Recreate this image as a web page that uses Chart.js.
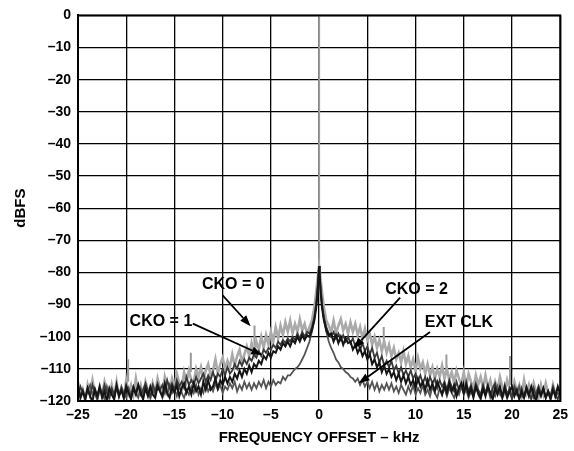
<!DOCTYPE html>
<html>
<head>
<meta charset="utf-8">
<script src="https://cdn.jsdelivr.net/npm/chart.js@4.4.0/dist/chart.umd.min.js"></script>
<style>
  html, body { margin: 0; padding: 0; background: #fff; }
  canvas { display: block; }
</style>
</head>
<body>
<canvas id="chart" width="574" height="451"></canvas>
<script>
// frequency offset, kHz (finer near the carrier)
const freq = [
  -25, -24.75, -24.5, -24.25, -24, -23.75, -23.5, -23.25,
  -23, -22.75, -22.5, -22.25, -22, -21.75, -21.5, -21.25,
  -21, -20.75, -20.5, -20.25, -20, -19.75, -19.5, -19.25,
  -19, -18.75, -18.5, -18.25, -18, -17.75, -17.5, -17.25,
  -17, -16.75, -16.5, -16.25, -16, -15.75, -15.5, -15.25,
  -15, -14.75, -14.5, -14.25, -14, -13.75, -13.5, -13.25,
  -13, -12.75, -12.5, -12.25, -12, -11.75, -11.5, -11.25,
  -11, -10.75, -10.5, -10.25, -10, -9.75, -9.5, -9.25,
  -9, -8.75, -8.5, -8.25, -8, -7.75, -7.5, -7.25,
  -7, -6.75, -6.5, -6.25, -6, -5.75, -5.5, -5.25,
  -5, -4.75, -4.5, -4.25, -4, -3.75, -3.5, -3.25,
  -3, -2.75, -2.5, -2.25, -2, -1.75, -1.5, -1.25,
  -1,
  -0.75, -0.5, -0.3, -0.15, -0.05, 0, 0.05, 0.15, 0.3, 0.5, 0.75,
  1,
  1.25, 1.5, 1.75, 2, 2.25, 2.5, 2.75, 3,
  3.25, 3.5, 3.75, 4, 4.25, 4.5, 4.75, 5,
  5.25, 5.5, 5.75, 6, 6.25, 6.5, 6.75, 7,
  7.25, 7.5, 7.75, 8, 8.25, 8.5, 8.75, 9,
  9.25, 9.5, 9.75, 10, 10.25, 10.5, 10.75, 11,
  11.25, 11.5, 11.75, 12, 12.25, 12.5, 12.75, 13,
  13.25, 13.5, 13.75, 14, 14.25, 14.5, 14.75, 15,
  15.25, 15.5, 15.75, 16, 16.25, 16.5, 16.75, 17,
  17.25, 17.5, 17.75, 18, 18.25, 18.5, 18.75, 19,
  19.25, 19.5, 19.75, 20, 20.25, 20.5, 20.75, 21,
  21.25, 21.5, 21.75, 22, 22.25, 22.5, 22.75, 23,
  23.25, 23.5, 23.75, 24, 24.25, 24.5, 24.75, 25
];

// dBFS (same row layout as freq)
const cko0 = [
  -114, -119, -116.5, -120, -115, -118, -113.5, -117.5,
  -119.5, -115.5, -118, -114, -117, -119, -115, -118.5,
  -114, -118.5, -116, -119, -113.5, -117.5, -115, -118,
  -113, -117.5, -115, -118.5, -114, -116.5, -119, -114.5,
  -117.5, -113, -116, -118, -112.5, -115.5, -117, -113,
  -115.5, -111.5, -114.5, -116.5, -111, -114, -110.5, -113.5,
  -114, -110, -112.5, -109.5, -113.5, -110.5, -108.5, -112,
  -110.5, -107, -111.5, -108.5, -106.5, -110, -107.5, -109.5,
  -105.5, -109, -106, -104, -108, -105.5, -103, -106,
  -102, -105.5, -101.5, -104, -100, -103.5, -99.5, -102.5,
  -98.5, -101.5, -97, -100.5, -96.5, -99.5, -95.5, -98.5,
  -95, -99, -96, -98.5, -94.5, -98, -96, -99,
  -97,
  -95, -91, -86, -82, -79, -78, -79, -82, -86, -91, -95,
  -96.5,
  -98.5, -95, -99, -96.5, -94.5, -98, -96, -99,
  -95.5, -98.5, -96, -99.5, -97, -100.5, -97.5, -101,
  -99, -102.5, -100, -103.5, -101, -104.5, -101.5, -105,
  -102.5, -106, -103.5, -107, -105, -108, -104.5, -108.5,
  -106, -109.5, -107, -110.5, -106.5, -110, -108, -111.5,
  -108.5, -112, -109.5, -113, -110, -112.5, -109, -113,
  -110, -113.5, -111, -114.5, -110.5, -113, -115, -111,
  -115.5, -111.5, -114, -116, -112, -115, -112.5, -116,
  -112, -116, -113.5, -117, -114, -116.5, -112.5, -115.5,
  -117.5, -113.5, -116, -118, -114, -117, -115, -118.5,
  -113.5, -117.5, -115, -118.5, -114.5, -117, -119, -115,
  -118, -114.5, -117.5, -119, -115, -118, -116, -117
];

const cko1 = [
  -115.5, -119, -117, -119.5, -116, -118.5, -120, -116.5,
  -118.5, -115.5, -119, -117, -120, -116, -118, -119.5,
  -115, -118.5, -116.5, -119, -115.5, -117.5, -119.5, -116,
  -118, -115, -117.5, -119.5, -116, -118.5, -115.5, -118,
  -119, -115.5, -117, -118.5, -114.5, -117.5, -119, -115.5,
  -117.5, -115, -118.5, -116, -114.5, -117.5, -115.5, -118,
  -114.5, -117, -115.5, -118, -114, -116.5, -113.5, -116.5,
  -115.5, -113, -116, -113.5, -115, -112.5, -114.5, -112.5,
  -114, -111.5, -113, -110.5, -112.5, -110, -111.5, -109,
  -111, -108.5, -109.5, -107.5, -108.5, -106, -107, -105,
  -106.5, -104.5, -105, -103, -104, -102, -103, -101.5,
  -103, -101, -102, -100, -101.5, -99.5, -101, -99.5,
  -100,
  -98, -95, -91, -86, -81, -78, -81, -86, -91, -95, -98,
  -99.5,
  -99, -101.5, -99.5, -102, -100, -102.5, -100.5, -102,
  -101.5, -104, -102.5, -105, -103.5, -106, -104.5, -107,
  -105.5, -108.5, -107, -109.5, -108, -111, -109, -111.5,
  -110, -112.5, -111, -113.5, -111.5, -114, -112, -114.5,
  -112.5, -115, -113.5, -116, -113, -115.5, -114, -116.5,
  -113.5, -116.5, -114.5, -117, -114, -116, -118, -115,
  -117.5, -114.5, -117, -115, -118.5, -116, -114.5, -117.5,
  -115, -118, -116, -119, -115.5, -117.5, -119, -116,
  -118.5, -115.5, -117.5, -119.5, -116, -118, -115.5, -119,
  -116, -119, -117, -115.5, -118.5, -116.5, -119.5, -117,
  -119, -116, -118.5, -115.5, -118, -120, -116.5, -118.5,
  -116, -119, -117, -119.5, -116.5, -118.5, -115.5, -118
];

const cko2 = [
  -118.5, -115.5, -117.5, -119, -116, -118.5, -115, -117.5,
  -119.5, -116.5, -118, -115, -117.5, -119, -116, -118,
  -115.5, -118, -116.5, -119, -115, -117.5, -118.5, -115.5,
  -117.5, -115, -118, -116.5, -114.5, -117, -118.5, -115,
  -117, -114.5, -116.5, -115, -117.5, -113.5, -116, -114.5,
  -116.5, -113.5, -115.5, -114, -116, -112.5, -115, -113.5,
  -115, -112.5, -114.5, -113, -111.5, -114, -112, -113.5,
  -111, -113.5, -111.5, -112.5, -110, -112, -109.5, -111.5,
  -110.5, -108.5, -110, -107.5, -109, -107, -108.5, -106.5,
  -107.5, -105.5, -106.5, -104.5, -106, -104, -105, -103.5,
  -104, -102.5, -103.5, -101.5, -102.5, -101, -102, -100.5,
  -101.5, -100, -101, -99, -100.5, -98.5, -100, -98.5,
  -99,
  -97, -94, -90, -85, -80, -78, -80, -85, -90, -94, -97,
  -99,
  -100, -98.5, -100.5, -99, -101, -99.5, -101.5, -100,
  -102, -100.5, -103, -101.5, -104, -102, -104.5, -103,
  -105.5, -103.5, -106.5, -105, -108, -106, -109, -107.5,
  -109.5, -107.5, -110.5, -109, -111.5, -109.5, -112, -110.5,
  -112.5, -110.5, -113, -111.5, -114, -112, -114.5, -112.5,
  -115, -112.5, -114.5, -113, -116, -113.5, -115.5, -114,
  -116.5, -113.5, -115.5, -117, -114, -116.5, -114.5, -117,
  -114, -117, -115, -118, -114.5, -116.5, -118, -115,
  -117.5, -115, -118, -116, -114.5, -117.5, -116, -118.5,
  -115, -118, -116, -119, -115.5, -117.5, -119, -116,
  -118.5, -115.5, -117.5, -119.5, -116, -118.5, -115.5, -118,
  -116, -119, -117, -118.5, -115.5, -118, -119.5, -117
];

const extClk = [
  -115.5, -118.5, -116.5, -119, -117, -115, -118, -116,
  -118.5, -116, -117.5, -119.5, -115.5, -118, -116.5, -119,
  -116, -118.5, -115.5, -117.5, -119, -116, -118, -115.5,
  -117.5, -119, -116, -118, -115, -117.5, -119, -116.5,
  -118, -115.5, -117, -119, -116, -118, -115, -117.5,
  -116, -118.5, -115.5, -117.5, -119, -116.5, -118, -115.5,
  -117.5, -115, -118, -116, -117.5, -114.5, -117, -115.5,
  -117, -114.5, -116.5, -115, -117.5, -115.5, -116.5, -114.5,
  -116, -114, -117, -115, -116.5, -114, -116, -114.5,
  -116.5, -114.5, -116, -114, -115.5, -113.5, -116, -114,
  -115.5, -113.5, -115, -114, -114.5, -112.5, -113.5, -112,
  -112, -111, -110, -109.5, -108.5, -107, -105.5, -103.5,
  -101.5,
  -98.5, -94.5, -89.5, -84.5, -80, -78, -80, -84.5, -89.5, -94.5, -98.5,
  -101.5,
  -103.5, -105, -107, -108, -109.5, -110, -111, -111.5,
  -112.5, -113, -114, -113, -115, -113.5, -115.5, -114,
  -116, -114, -116.5, -114.5, -117, -115, -116.5, -114.5,
  -116.5, -114.5, -117, -115.5, -117.5, -115, -116.5, -118,
  -115.5, -117.5, -115, -118, -116, -117.5, -115, -118,
  -116.5, -118.5, -115.5, -117.5, -119, -116, -118, -116,
  -118.5, -116, -117.5, -119, -116.5, -118, -115.5, -118,
  -116.5, -119, -117, -118.5, -115.5, -118, -119.5, -116.5,
  -118, -116, -119, -117, -118.5, -115.5, -118, -119,
  -116, -118.5, -117, -119.5, -116.5, -118, -115.5, -118.5,
  -119, -116.5, -118, -116, -119, -117.5, -115.5, -118,
  -116.5, -119, -117, -118.5, -116, -119, -117.5, -118
];

// carrier and spurs (vertical lines)
const spurFreq = [-19.8, -13.3, -6.7, 0, 6.7, 13.2, 19.8];
const spurTop = [-107, -105, -96.5, 0, -97, -105.5, -106];
const spurBase = [-114, -111, -103, -78, -103, -111, -115];

const FONT = '"Liberation Sans", Arial, Helvetica, sans-serif';

const toPoints = (ys) => freq.map((f, i) => ({ x: f, y: ys[i] }));

const spurPoints = [];
spurFreq.forEach((f, i) => {
  spurPoints.push({ x: f, y: spurBase[i] }, { x: f, y: spurTop[i] }, { x: f, y: null });
});

// callout labels and arrows, in data units
const callouts = [
  { text: "CKO = 0", at: [-8.9, -83.7], from: [-10.0, -87.1], to: [-7.1, -96.7] },
  { text: "CKO = 1", at: [-16.4, -95.2], from: [-13.1, -95.9], to: [-5.9, -105.7] },
  { text: "CKO = 2", at: [10.1, -85.3], from: [8.4, -87.8], to: [3.6, -103.7] },
  { text: "EXT CLK", at: [14.5, -95.5], from: [11.5, -98.5], to: [4.1, -114.5] },
];

const dash = (v) => (v < 0 ? "\u2013" + Math.abs(v) : String(v));

const calloutLayer = {
  id: "calloutLayer",
  afterDatasetsDraw(chart) {
    const { ctx, chartArea: { left, top, width, height }, scales: { x, y } } = chart;
    ctx.save();
    ctx.strokeStyle = "#000";
    ctx.lineWidth = 2;
    ctx.strokeRect(left, top, width, height);

    ctx.fillStyle = "#000";
    ctx.font = "bold 16px " + FONT;
    ctx.textAlign = "center";
    ctx.textBaseline = "middle";
    callouts.forEach((c) => {
      ctx.fillText(c.text, x.getPixelForValue(c.at[0]), y.getPixelForValue(c.at[1]));

      const x1 = x.getPixelForValue(c.from[0]);
      const y1 = y.getPixelForValue(c.from[1]);
      const x2 = x.getPixelForValue(c.to[0]);
      const y2 = y.getPixelForValue(c.to[1]);
      const ang = Math.atan2(y2 - y1, x2 - x1);
      const len = 11;
      const half = 4;
      const bx = x2 - len * Math.cos(ang);
      const by = y2 - len * Math.sin(ang);

      ctx.lineWidth = 1.8;
      ctx.beginPath();
      ctx.moveTo(x1, y1);
      ctx.lineTo(bx, by);
      ctx.stroke();

      ctx.beginPath();
      ctx.moveTo(x2, y2);
      ctx.lineTo(bx + half * Math.sin(ang), by - half * Math.cos(ang));
      ctx.lineTo(bx - half * Math.sin(ang), by + half * Math.cos(ang));
      ctx.closePath();
      ctx.fill();
    });
    ctx.restore();
  },
};

const trace = (label, ys, color, width, order) => ({
  label: label,
  data: toPoints(ys),
  borderColor: color,
  borderWidth: width,
  pointRadius: 0,
  tension: 0,
  order: order,
});

new Chart(document.getElementById("chart"), {
  type: "line",
  data: {
    datasets: [
      {
        label: "spurs",
        data: spurPoints,
        borderColor: "#9a9a9a",
        borderWidth: 2,
        pointRadius: 0,
        spanGaps: false,
        order: 6,
      },
      trace("CKO = 0", cko0, "#aaaaaa", 2.6, 5),
      trace("EXT CLK", extClk, "#555555", 1.8, 4),
      trace("CKO = 2", cko2, "#3a3a3a", 1.8, 3),
      trace("CKO = 1", cko1, "#151515", 2, 2),
    ],
  },
  options: {
    responsive: false,
    animation: false,
    layout: { padding: { top: 14, right: 12, left: 0, bottom: 0 } },
    plugins: {
      legend: { display: false },
      tooltip: { enabled: false },
    },
    scales: {
      x: {
        type: "linear",
        min: -25,
        max: 25,
        afterFit: (scale) => { scale.height = 50; },
        ticks: {
          stepSize: 5,
          padding: 6,
          color: "#000",
          font: { family: FONT, size: 14, weight: "bold" },
          callback: (v) => dash(v),
        },
        grid: { color: "#000", lineWidth: 1.3, drawTicks: false },
        border: { color: "#000", width: 2 },
        title: {
          display: true,
          text: "FREQUENCY OFFSET \u2013 kHz",
          color: "#000",
          font: { family: FONT, size: 15, weight: "bold" },
          padding: { top: 0, bottom: 4 },
        },
      },
      y: {
        min: -120,
        max: 0,
        afterFit: (scale) => { scale.width = 78; },
        ticks: {
          stepSize: 10,
          padding: 7,
          color: "#000",
          font: { family: FONT, size: 14, weight: "bold" },
          callback: (v) => dash(v),
        },
        grid: { color: "#000", lineWidth: 1.3, drawTicks: false },
        border: { color: "#000", width: 2 },
        title: {
          display: true,
          text: "dBFS",
          color: "#000",
          font: { family: FONT, size: 15, weight: "bold" },
          padding: { top: 12, bottom: 0 },
        },
      },
    },
  },
  plugins: [calloutLayer],
});
</script>
</body>
</html>
